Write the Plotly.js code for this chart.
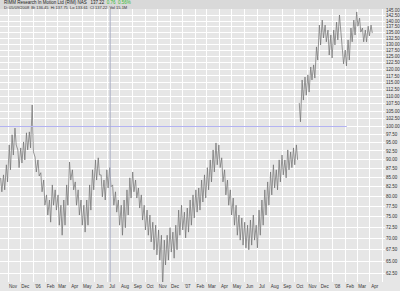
<!DOCTYPE html>
<html><head><meta charset="utf-8">
<script src="https://cdn.plot.ly/plotly-3.0.1.min.js"></script>
<style>html,body{margin:0;padding:0;background:#e6e6e6}#chart{width:400px;height:291px}</style>
</head><body><div id="chart"></div>
<script>
// Weekly high / low estimates (price, log scale)
const firstWeek = '2005-10-14';
const weeklyHigh = [84.9,85.7,88.5,94.3,97.4,99.5,92.8,93.4,95.2,98.0,98.3,107.1,90.7,89.9,86.3,84.3,80.4,79.1,83.0,81.7,
80.4,77.8,79.1,83.0,89.3,87.1,83.8,81.7,79.1,77.8,79.1,83.0,87.1,89.9,90.5,85.7,84.3,87.1,87.7,83.0,
81.2,79.1,77.8,79.1,81.7,84.9,86.5,84.3,82.2,80.4,77.8,76.6,75.4,73.7,73.0,71.9,70.7,69.6,70.7,72.4,
71.4,73.0,76.6,77.8,76.1,77.1,79.1,80.4,81.7,82.2,84.3,85.7,87.7,89.9,92.8,94.9,94.3,90.5,87.1,84.3,
81.7,79.6,77.8,75.4,74.7,73.7,73.0,74.2,75.4,73.0,76.6,79.1,81.7,83.8,86.5,88.5,87.1,89.9,91.3,89.9,
92.8,92.2,93.4,94.3,107.8,116.0,117.1,117.9,120.9,121.7,128.9,138.2,140.4,138.2,136.0,133.9,136.0,139.5,142.7,129.7,
127.6,131.8,136.9,140.4,144.1,141.3,136.9,136.0,137.7,138.2];
const weeklyLow = [81.2,81.7,83.8,87.1,91.3,94.3,87.7,89.0,89.9,92.8,93.4,92.2,86.5,85.4,81.2,77.8,75.4,73.7,77.8,76.6,
73.0,70.7,73.0,77.8,84.3,81.7,77.8,75.4,73.0,71.4,73.0,76.6,81.7,84.3,85.7,79.9,79.1,82.2,82.5,77.8,
76.1,73.0,70.7,72.4,75.4,79.6,81.2,79.6,77.1,74.2,71.9,70.7,69.2,67.5,66.4,65.3,59.8,64.3,65.3,67.0,
65.7,67.5,70.7,71.9,70.1,71.4,73.0,74.7,76.1,76.6,78.6,79.6,81.7,83.8,86.5,88.5,87.7,83.8,80.4,77.8,
75.4,73.0,70.7,69.6,68.5,67.9,67.5,68.5,69.6,67.9,70.7,73.0,75.4,77.8,80.4,82.2,81.7,83.8,85.7,84.9,
87.1,87.7,88.5,89.9,101.5,108.8,110.5,111.6,116.0,116.7,123.6,129.7,132.6,131.0,125.6,124.4,129.7,131.8,136.0,122.1,
121.3,123.6,131.0,133.9,137.7,135.1,131.0,131.0,133.5,134.7];
const gapAfterWeek = 103;              // price gap in the picture
const refLevel = 100;                  // purple horizontal line
const refLineDates = ['2005-10-12', '2008-02-05'];
const markerDate = '2006-07-08';       // vertical marker line
const xRange = ['2005-10-12 12:00', '2008-05-08'];
const yTicks = [62.5,65,67.5,70,72.5,75,77.5,80,82.5,85,87.5,90,92.5,95,97.5,100,102.5,105,107.5,110,
112.5,115,117.5,120,122.5,125,127.5,130,132.5,135,137.5,140,142.5,145];
const monthStarts = [];
const monthLabels = ['Nov','Dec',"'06",'Feb','Mar','Apr','May','Jun','Jul','Aug','Sep','Oct','Nov','Dec',"'07",'Feb','Mar','Apr','May','Jun','Jul','Aug','Sep','Oct','Nov','Dec',"'08",'Feb','Mar','Apr','May'];
const labelMid = [];
for (let k = 0; k < monthLabels.length; k++) {
  const y = 2005 + Math.floor((10 + k) / 12), m = (10 + k) % 12;
  monthStarts.push(new Date(Date.UTC(y, m, 1)).toISOString().slice(0,10));
  labelMid.push(new Date(Date.UTC(y, m, 13)).toISOString().slice(0,10));
}
const firstLabel = {date:'2005-10-14', text:'Oct'};

const day = 864e5, t0 = Date.parse(firstWeek);
const xs = [], ys = [];
for (let i = 0; i < weeklyHigh.length; i++) {
  const d = t0 + i * 7 * day;
  xs.push(new Date(d).toISOString().slice(0,10)); ys.push(weeklyHigh[i]);
  xs.push(new Date(d + 3 * day).toISOString().slice(0,10)); ys.push(weeklyLow[i]);
  if (i === gapAfterWeek) { xs.push(null); ys.push(null); }
}

const font = {family:'Liberation Sans, Arial, sans-serif', size:4.5, color:'#333'};
const data = [
  {type:'scatter', mode:'lines', x:xs, y:ys, line:{color:'#6e6e6e', width:0.7}, connectgaps:false, hoverinfo:'skip'},
  {type:'scatter', mode:'lines', x:refLineDates, y:[refLevel, refLevel], xaxis:'x2', line:{color:'#b3b3f2', width:1}, hoverinfo:'skip'}
];
const layout = {
  width:400, height:291, margin:{l:0, r:15, t:9, b:9},
  paper_bgcolor:'#e6e6e6', plot_bgcolor:'#e6e6e6', showlegend:false,
  font: font,
  xaxis:{type:'date', range:xRange, tickmode:'array', tickvals:monthStarts, ticktext:monthStarts.map(()=>''),
    showgrid:true, gridcolor:'#ffffff', gridwidth:1, zeroline:false, showline:false, ticks:'', fixedrange:true},
  xaxis2:{type:'date', overlaying:'x', side:'bottom', anchor:'y', range:xRange, tickmode:'array',
    tickvals:[firstLabel.date].concat(labelMid), ticktext:[firstLabel.text].concat(monthLabels),
    showgrid:false, zeroline:false, showline:false, ticks:'', tickfont:font, fixedrange:true},
  yaxis:{type:'log', side:'right', range:[Math.log10(60.9), Math.log10(145.46)], tickmode:'array', tickvals:yTicks,
    ticktext:yTicks.map(v=>v.toFixed(2)), showgrid:true, gridcolor:'#ffffff', gridwidth:1, zeroline:false,
    showline:false, ticks:'', tickfont:font, fixedrange:true},
  shapes:[
    {type:'rect', xref:'paper', yref:'paper', x0:0, x1:1.04, y0:1, y1:1.04, fillcolor:'#d9d9d9', line:{width:0}, layer:'below'},
    {type:'line', xref:'x', yref:'paper', x0:markerDate, x1:markerDate, y0:0, y1:1, line:{color:'#a9adc4', width:1}}
  ],
  annotations:[
    {xref:'paper', yref:'paper', x:0.005, y:1.022, xanchor:'left', yanchor:'middle', showarrow:false,
     text:'RIMM Research In Motion Ltd (RIM) NAS   137.22  <span style="color:#33bb33">0.76  0.56%</span>', font:{family:font.family, size:4.5, color:'#222'}},
    {xref:'paper', yref:'paper', x:0.005, y:1.006, xanchor:'left', yanchor:'middle', showarrow:false,
     text:'D: 05/09/2008  Bt 136.45  Hi 137.75  Lo 133.61  Cl 137.22  Vol 15.1M', font:{family:font.family, size:4, color:'#333'}}
  ]
};
Plotly.newPlot('chart', data, layout, {staticPlot:true, displayModeBar:false});
</script></body></html>
